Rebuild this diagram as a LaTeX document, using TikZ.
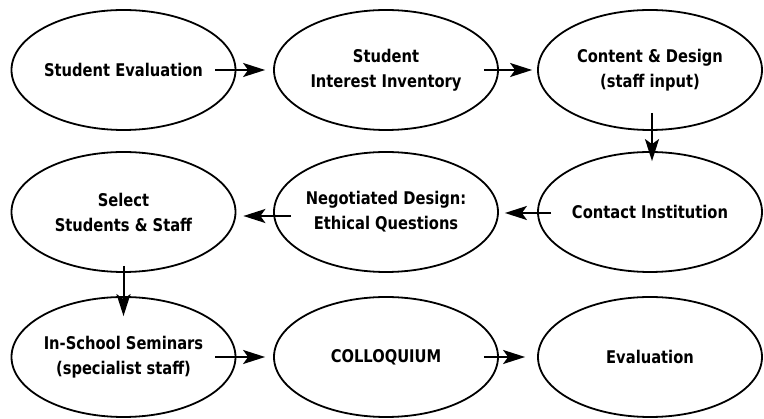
\documentclass[tikz,border=0pt]{standalone}
\usepackage{fontspec}
\setmainfont{DejaVu Sans}[FakeStretch=0.84]
\usetikzlibrary{shapes.geometric,arrows.meta}
\begin{document}
\begin{tikzpicture}[x=1pt,y=-1pt,
  stage/.style={ellipse, draw, line width=1.8pt, minimum width=224pt,
                minimum height=120pt, inner sep=0pt},
  lbl/.style={align=center, font=\bfseries\fontsize{17.5}{25}\selectfont},
  arr/.style={line width=2pt, -{Stealth[length=22pt,width=14pt,inset=5pt]}}]
  \useasboundingbox (0,0) rectangle (764,419);

  % top row
  \node[stage, label={[lbl]center:Student Evaluation}] (a1) at (123.5,70) {};
  \node[stage, label={[lbl]center:{Student\\Interest Inventory}}] (a2) at (386,70) {};
  \node[stage, label={[lbl]center:{Content \& Design\\(staff input)}}] (a3) at (650,70) {};

  % middle row
  \node[stage, label={[lbl]center:{Select\\Students \& Staff}}] (b1) at (123.5,212) {};
  \node[stage, label={[lbl]center:{Negotiated Design:\\Ethical Questions}}] (b2) at (386,212) {};
  \node[stage, label={[lbl]center:Contact Institution}] (b3) at (650,212) {};

  % bottom row
  \node[stage, label={[lbl]center:{In-School Seminars\\(specialist staff)}}] (c1) at (123.5,357) {};
  \node[stage, label={[lbl]center:COLLOQUIUM}] (c2) at (386,357) {};
  \node[stage, label={[lbl]center:Evaluation}] (c3) at (650,357) {};

  % flow connectors
  \draw[arr] ([xshift=-21pt]a1.east) -- ([xshift=-8pt]a2.west);
  \draw[arr] ([xshift=-15pt]a2.east) -- ([xshift=-5pt]a3.west);
  \draw[arr] ([xshift=2pt,yshift=18pt]a3.south) -- ([xshift=2pt,yshift=-10pt]b3.north);
  \draw[arr] ([xshift=14pt,yshift=-1pt]b3.west) -- ([xshift=6pt,yshift=-1pt]b2.east);
  \draw[arr] ([xshift=18pt,yshift=-4pt]b2.west) -- ([xshift=7pt,yshift=-4pt]b1.east);
  \draw[arr] ([yshift=7pt]b1.south) -- ([yshift=-20pt]c1.north);
  \draw[arr] ([xshift=-21pt]c1.east) -- ([xshift=-8pt]c2.west);
  \draw[arr] ([xshift=-15pt]c2.east) -- ([xshift=-12pt]c3.west);
\end{tikzpicture}
\end{document}
